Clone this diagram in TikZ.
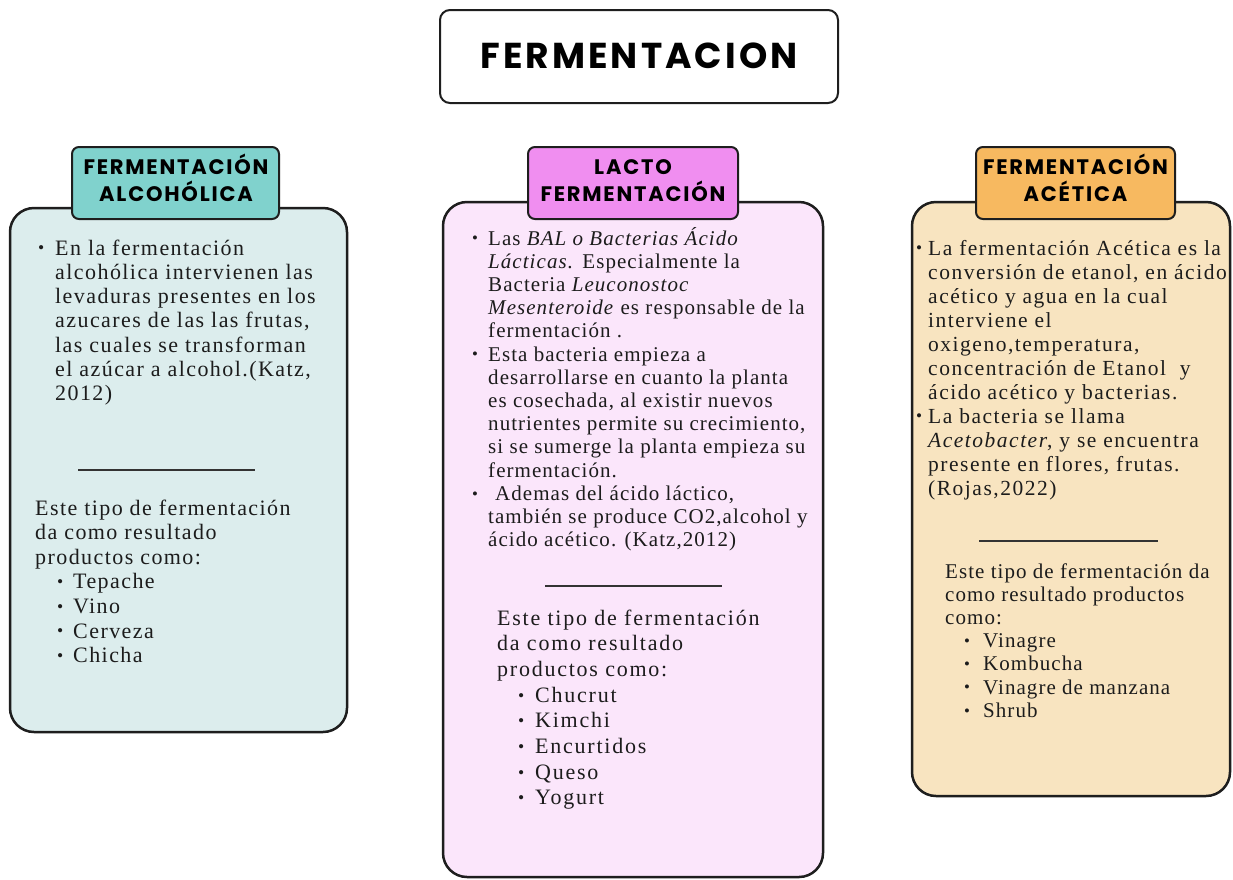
\documentclass[tikz,border=0pt]{standalone}
\usepackage{fontspec}
\usepackage{graphicx}
\usepackage{xcolor}
\setmainfont{Liberation Serif}
\newfontfamily\headfont[LetterSpace=8.5]{Poppins}
\newfontfamily\serifA[LetterSpace=6.5]{Liberation Serif}
\newfontfamily\serifB[LetterSpace=5]{Liberation Serif}
\newfontfamily\serifC[LetterSpace=8]{Liberation Serif}
\newfontfamily\serifD[LetterSpace=7]{Liberation Serif}
\definecolor{inkc}{HTML}{1C1C1C}
\definecolor{linec}{HTML}{1E1E1E}
\definecolor{tealtab}{HTML}{80D2CD}
\definecolor{tealbody}{HTML}{DCEDED}
\definecolor{pinktab}{HTML}{F08EF0}
\definecolor{pinkbody}{HTML}{FBE6FB}
\definecolor{orangetab}{HTML}{F7B960}
\definecolor{orangebody}{HTML}{F8E4C0}
\newcommand\bul{\raisebox{0.05em}{\scalebox{0.8}{\textbullet}}}
\newcommand\bi[1]{\makebox[#1][l]{\bul}}
\newcommand\ii[1]{\hspace*{#1}}
\tikzset{
  cardbody/.style={draw=linec, line width=2.5pt, rounded corners=24pt, inner sep=0pt},
  tabbox/.style={draw=linec, line width=2pt, rounded corners=7pt, inner sep=0pt, minimum height=72pt},
  tabtext/.style={anchor=base, inner sep=0pt, text=black, font=\headfont\bfseries\fontsize{21}{27}\selectfont, align=center},
  txt/.style={anchor=base west, inner sep=0pt, text=inkc},
  sepline/.style={draw=inkc!90, line width=2.5pt}
}
\begin{document}
\begin{tikzpicture}[x=1pt,y=-1pt]
\useasboundingbox (0,0) rectangle (1233,879);
\fill[white] (0,0) rectangle (1233,879);
% title
\node[draw=linec, line width=2pt, rounded corners=10pt, minimum width=398pt, minimum height=93pt, inner sep=0pt] (title) at (639,56.5) {};
\node[anchor=base, inner sep=0pt, font=\headfont\bfseries\fontsize{36}{40}\selectfont] (titletxt) at (639,68.5) {FERMENTACION};
% bodies
\node[cardbody, fill=tealbody, minimum width=337pt, minimum height=524pt] (bodyL) at (178.5,470) {};
\node[cardbody, fill=pinkbody, minimum width=380pt, minimum height=675pt] (bodyM) at (633,539.5) {};
\node[cardbody, fill=orangebody, minimum width=318pt, minimum height=594pt] (bodyR) at (1071,499) {};
% tabs
\node[tabbox, fill=tealtab, minimum width=207pt] (tabL) at (175.5,183) {};
\node[tabbox, fill=pinktab, minimum width=210pt] (tabM) at (633,183) {};
\node[tabbox, fill=orangetab, minimum width=199pt] (tabR) at (1075.5,183) {};
\node[tabtext] (tabLt) at (176,201.5) {FERMENTACIÓN\\ALCOHÓLICA};
\node[tabtext] (tabMt) at (633,201.5) {LACTO\\FERMENTACIÓN};
\node[tabtext] (tabRt) at (1075.5,201.5) {FERMENTACIÓN\\ACÉTICA};
% left card text
\node[txt] (lt) at (38,255) {\begin{minipage}[t]{320pt}\serifA\fontsize{22}{24.3}\selectfont
\bi{17pt}En la fermentación\\
\ii{17pt}alcohólica intervienen las\\
\ii{17pt}levaduras presentes en los\\
\ii{17pt}azucares de las las frutas,\\
\ii{17pt}las cuales se transforman\\
\ii{17pt}el azúcar a alcohol.(Katz,\\
\ii{17pt}2012)\end{minipage}};
\draw[sepline] (78,470) -- (255,470);
\node[txt] (lb) at (35,515) {\begin{minipage}[t]{320pt}\serifA\fontsize{22}{24.6}\selectfont
Este tipo de fermentación\\
da como resultado\\
productos como:\\
\ii{22pt}\bi{16pt}Tepache\\
\ii{22pt}\bi{16pt}Vino\\
\ii{22pt}\bi{16pt}Cerveza\\
\ii{22pt}\bi{16pt}Chicha\end{minipage}};
% middle card text
\node[txt] (mt) at (472,245) {\begin{minipage}[t]{360pt}\serifB\fontsize{21}{23.2}\selectfont
\bi{16pt}Las \textit{BAL o Bacterias Ácido}\\
\ii{16pt}\textit{Lácticas.} Especialmente la\\
\ii{16pt}Bacteria \textit{Leuconostoc}\\
\ii{16pt}\textit{Mesenteroide} es responsable de la\\
\ii{16pt}fermentación .\\
\bi{16pt}Esta bacteria empieza a\\
\ii{16pt}desarrollarse en cuanto la planta\\
\ii{16pt}es cosechada, al existir nuevos\\
\ii{16pt}nutrientes permite su crecimiento,\\
\ii{16pt}si se sumerge la planta empieza su\\
\ii{16pt}fermentación.\\
\bi{16pt}\hspace*{7pt}Ademas del ácido láctico,\\
\ii{16pt}también se produce CO2,alcohol y\\
\ii{16pt}ácido acético. (Katz,2012)\end{minipage}};
\draw[sepline] (545,586) -- (722,586);
\node[txt] (mb) at (497,625) {\begin{minipage}[t]{320pt}\serifC\fontsize{22}{25.7}\selectfont
Este tipo de fermentación\\
da como resultado\\
productos como:\\
\ii{21pt}\bi{17pt}Chucrut\\
\ii{21pt}\bi{17pt}Kimchi\\
\ii{21pt}\bi{17pt}Encurtidos\\
\ii{21pt}\bi{17pt}Queso\\
\ii{21pt}\bi{17pt}Yogurt\end{minipage}};
% right card text
\node[txt] (rt) at (916,255) {\begin{minipage}[t]{320pt}\serifD\fontsize{21.5}{24}\selectfont
\bi{12pt}La fermentación Acética es la\\
\ii{12pt}conversión de etanol, en ácido\\
\ii{12pt}acético y agua en la cual\\
\ii{12pt}interviene el\\
\ii{12pt}oxigeno,temperatura,\\
\ii{12pt}concentración de Etanol\ \ y\\
\ii{12pt}ácido acético y bacterias.\\
\bi{12pt}La bacteria se llama\\
\ii{12pt}\textit{Acetobacter}, y se encuentra\\
\ii{12pt}presente en flores, frutas.\\
\ii{12pt}(Rojas,2022)\end{minipage}};
\draw[sepline] (979,541) -- (1158,541);
\node[txt] (rb) at (945,578) {\begin{minipage}[t]{320pt}\serifB\fontsize{21}{23.2}\selectfont
Este tipo de fermentación da\\
como resultado productos\\
como:\\
\ii{19pt}\bi{19pt}Vinagre\\
\ii{19pt}\bi{19pt}Kombucha\\
\ii{19pt}\bi{19pt}Vinagre de manzana\\
\ii{19pt}\bi{19pt}Shrub\end{minipage}};
\end{tikzpicture}
\end{document}
